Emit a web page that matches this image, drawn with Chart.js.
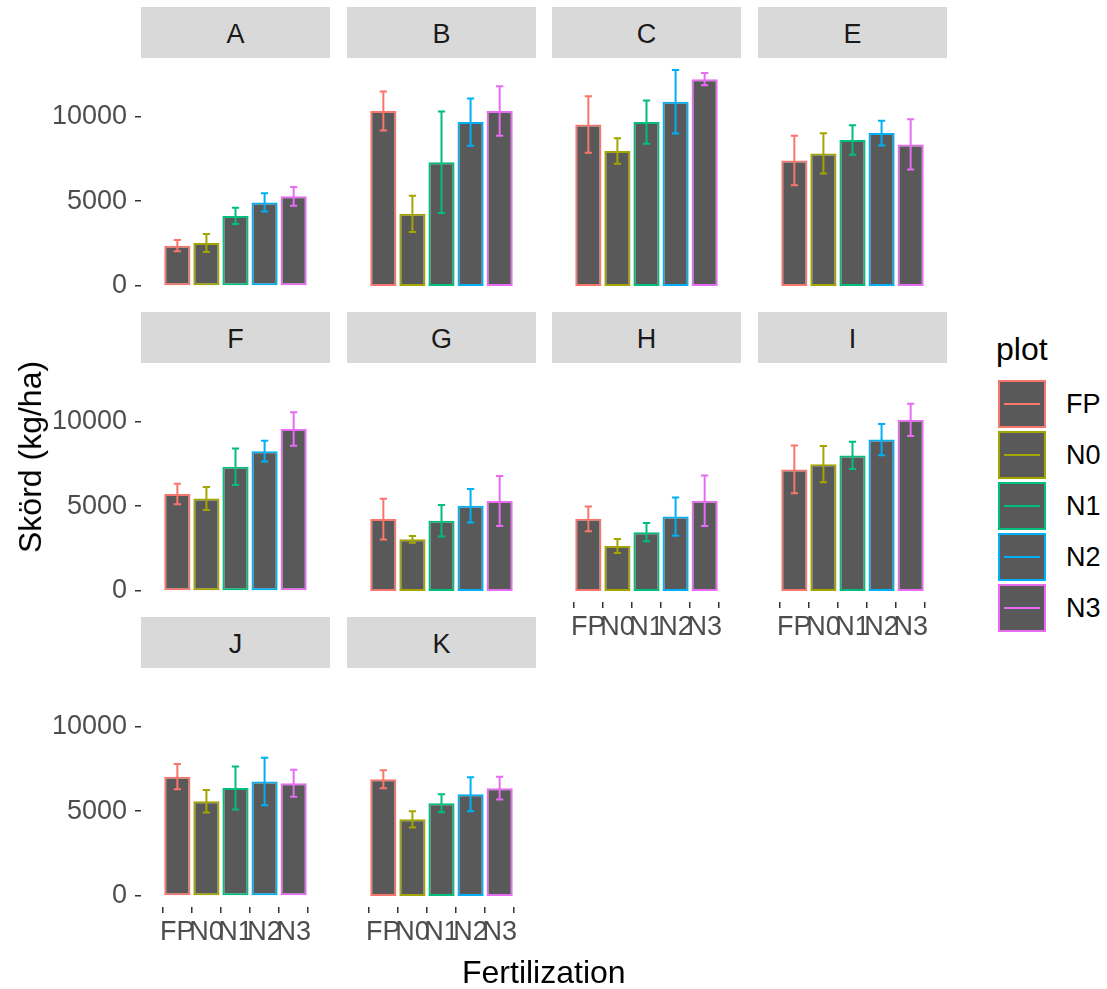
<!DOCTYPE html>
<html>
<head>
<meta charset="utf-8">
<script src="https://cdn.jsdelivr.net/npm/chart.js@4.4.1/dist/chart.umd.min.js"></script>
<style>
  body { margin: 0; background: #fff; font-family: 'Liberation Sans', Arial, sans-serif; }
  #wrap { position: relative; width: 1107px; height: 989px; overflow: hidden; }
  canvas { position: absolute; }
  .strip { position: absolute; background: #d9d9d9; color: #1a1a1a; font-size: 27px; text-align: center; }
  .title { position: absolute; color: #000; font-size: 32px; white-space: nowrap; line-height: 32px; }
  .key { position: absolute; width: 44px; height: 44px; background: #595959; border: 2px solid; }
  .key i { position: absolute; left: 4px; right: 4px; top: 21px; height: 2px; }
  .lab { position: absolute; font-size: 27px; color: #000; line-height: 48px; }
</style>
</head>
<body>
<div id="wrap"></div>
<script>
// treatments and ggplot hue colours
const plots = ['FP', 'N0', 'N1', 'N2', 'N3'];
const plotColors = ['#F8766D', '#A3A500', '#00BF7D', '#00B0F6', '#E76BF3'];
const yTicks = [0, 5000, 10000];
const facets = ['A', 'B', 'C', 'E', 'F', 'G', 'H', 'I', 'J', 'K'];

// mean yield (kg/ha) per field, and error half-width
const yieldA = [2380, 2540, 4130, 4930, 5290];
const errA   = [335, 530, 480, 540, 550];
const yieldB = [10320, 4260, 7300, 9670, 10320];
const errB   = [1150, 1070, 2990, 1390, 1460];
const yieldC = [9530, 7960, 9670, 10870, 12200];
const errC   = [1670, 750, 1280, 1870, 360];
const yieldE = [7410, 7820, 8610, 9020, 8350];
const errE   = [1460, 1190, 870, 730, 1480];
const yieldF = [5720, 5460, 7330, 8250, 9560];
const errF   = [610, 680, 1080, 610, 990];
const yieldG = [4240, 3050, 4140, 5030, 5310];
const errG   = [1200, 200, 930, 990, 1480];
const yieldH = [4260, 2650, 3470, 4390, 5330];
const errH   = [730, 415, 535, 1130, 1490];
const yieldI = [7170, 7480, 8000, 8930, 10100];
const errI   = [1410, 1070, 810, 920, 950];
const yieldJ = [7040, 5590, 6370, 6750, 6650];
const errJ   = [740, 660, 1270, 1400, 800];
const yieldK = [6890, 4520, 5470, 6000, 6360];
const errK   = [530, 475, 530, 1005, 670];

const yields = [yieldA, yieldB, yieldC, yieldE, yieldF, yieldG, yieldH, yieldI, yieldJ, yieldK];
const errs = [errA, errB, errC, errE, errF, errG, errH, errI, errJ, errK];

// layout
const colX = [141, 347, 552, 758];
const rowTop = [7, 312, 617];
const panelW = 189, stripH = 51, panelH = 239;

Chart.defaults.font.family = "'Liberation Sans', Arial, sans-serif";
Chart.defaults.font.size = 27;

const errorBars = {
  id: 'errorBars',
  afterDatasetsDraw(chart) {
    const { ctx, scales: { x, y } } = chart;
    const ds = chart.data.datasets[0];
    ctx.save();
    ctx.lineWidth = 2;
    ds.data.forEach((d, k) => {
      const px = x.getPixelForValue(d.x);
      const hw = x.getPixelForValue(d.x + 0.125) - px;
      const top = y.getPixelForValue(d.y + ds.errors[k]);
      const bot = y.getPixelForValue(d.y - ds.errors[k]);
      ctx.strokeStyle = plotColors[k];
      ctx.beginPath();
      ctx.moveTo(px, top); ctx.lineTo(px, bot);
      ctx.moveTo(px - hw, top); ctx.lineTo(px + hw, top);
      ctx.moveTo(px - hw, bot); ctx.lineTo(px + hw, bot);
      ctx.stroke();
    });
    ctx.restore();
  }
};

// keep the panel area fixed: no extra room for half labels at the ends
const noEdgePadding = s => {
  s.paddingTop = 0; s.paddingBottom = 0; s.paddingLeft = 0; s.paddingRight = 0;
};

const wrap = document.getElementById('wrap');

facets.forEach((name, i) => {
  const row = Math.floor(i / 4), col = i % 4;
  const showY = col === 0;
  const showX = i + 4 >= facets.length;
  const leftExtra = showY ? colX[0] : 0;
  const bottomExtra = showX ? 50 : 0;

  const strip = document.createElement('div');
  strip.className = 'strip';
  strip.style.left = colX[col] + 'px';
  strip.style.top = rowTop[row] + 'px';
  strip.style.width = panelW + 'px';
  strip.style.height = (stripH - 3) + 'px';
  strip.style.paddingTop = '3px';
  strip.style.lineHeight = (stripH - 3) + 'px';
  strip.textContent = name;
  wrap.appendChild(strip);

  const cv = document.createElement('canvas');
  cv.width = panelW + leftExtra;
  cv.height = panelH + bottomExtra;
  cv.style.left = (colX[col] - leftExtra) + 'px';
  cv.style.top = (rowTop[row] + stripH) + 'px';
  wrap.appendChild(cv);

  const tickGrid = { drawOnChartArea: false, drawTicks: true, tickLength: 6, color: '#333333', lineWidth: 1.5 };

  new Chart(cv, {
    type: 'bar',
    data: {
      datasets: [{
        data: yields[i].map((v, k) => ({ x: k, y: v })),
        errors: errs[i],
        backgroundColor: '#595959',
        borderColor: plotColors,
        borderWidth: 2,
        borderSkipped: false,
        barPercentage: 0.9,
        categoryPercentage: 1
      }]
    },
    options: {
      responsive: false,
      animation: false,
      devicePixelRatio: 1,
      layout: { padding: 0 },
      plugins: { legend: { display: false }, tooltip: { enabled: false } },
      scales: {
        x: {
          type: 'linear', min: -0.6, max: 4.6, display: showX,
          afterBuildTicks: s => { s.ticks = plots.map((p, k) => ({ value: k })); },
          afterFit: s => { s.height = bottomExtra; noEdgePadding(s); },
          ticks: { callback: v => plots[v], autoSkip: false, maxRotation: 0, color: '#4d4d4d', padding: 3 },
          grid: tickGrid,
          border: { display: false }
        },
        y: {
          min: -650, max: 13450, display: showY,
          afterBuildTicks: s => { s.ticks = yTicks.map(v => ({ value: v })); },
          afterFit: s => { s.width = leftExtra; noEdgePadding(s); },
          ticks: { callback: v => String(v), color: '#4d4d4d', padding: 8 },
          grid: tickGrid,
          border: { display: false }
        }
      }
    },
    plugins: [errorBars]
  });
});

// axis titles
const yt = document.createElement('div');
yt.className = 'title';
yt.textContent = 'Skörd (kg/ha)';
wrap.appendChild(yt);
yt.style.left = (30 - yt.offsetWidth / 2) + 'px';
yt.style.top = (457 - 16) + 'px';
yt.style.transform = 'rotate(-90deg)';

const xt = document.createElement('div');
xt.className = 'title';
xt.textContent = 'Fertilization';
wrap.appendChild(xt);
xt.style.left = (544 - xt.offsetWidth / 2) + 'px';
xt.style.top = '956px';

// legend
const lt = document.createElement('div');
lt.className = 'title';
lt.textContent = 'plot';
lt.style.left = '996px';
lt.style.top = '333px';
wrap.appendChild(lt);

plots.forEach((p, k) => {
  const key = document.createElement('div');
  key.className = 'key';
  key.style.left = '998px';
  key.style.top = (380 + k * 51) + 'px';
  key.style.borderColor = plotColors[k];
  const ln = document.createElement('i');
  ln.style.background = plotColors[k];
  key.appendChild(ln);
  wrap.appendChild(key);

  const lab = document.createElement('div');
  lab.className = 'lab';
  lab.textContent = p;
  lab.style.left = '1066px';
  lab.style.top = (380 + k * 51) + 'px';
  wrap.appendChild(lab);
});
</script>
</body>
</html>
